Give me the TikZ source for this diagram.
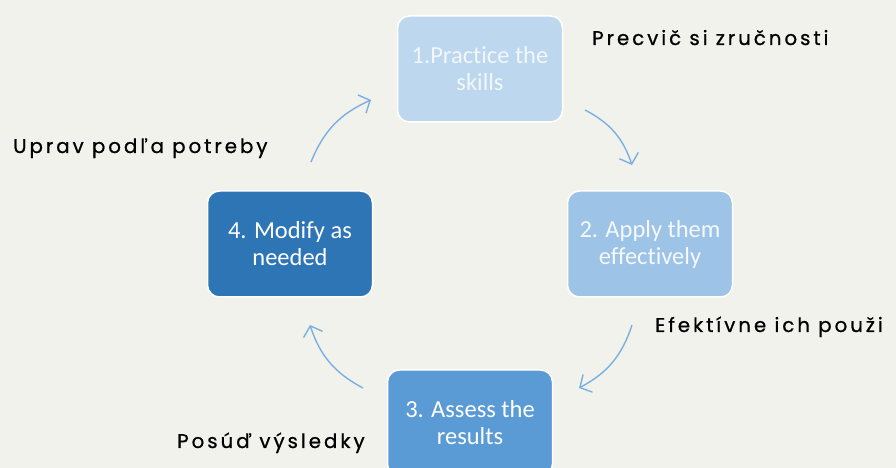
\documentclass[tikz,border=0pt]{standalone}
\usepackage{fontspec}
\usepackage{tikz}
\usetikzlibrary{arrows.meta, positioning}
\newfontfamily\boxfont[Ligatures={NoCommon, NoRare}]{Carlito}
\newfontfamily\lblfont[LetterSpace=15, FakeBold=0.8]{Poppins}
\definecolor{BgGray}{RGB}{242,242,237}
\definecolor{StepA}{RGB}{189,215,238}
\definecolor{StepB}{RGB}{157,195,230}
\definecolor{StepC}{RGB}{91,155,213}
\definecolor{StepD}{RGB}{46,117,182}
\definecolor{ArrBlue}{RGB}{122,176,225}

\begin{document}
\begin{tikzpicture}[x=1pt, y=1pt,
          stage/.style={rectangle, rounded corners=12pt, minimum width=165pt,
                        minimum height=106pt, align=center, draw=white,
                        line width=1.5pt, text=white, font=\boxfont\fontsize{24.5}{27}\selectfont},
          cyc/.style={-{Straight Barb[length=9pt, width=20pt]}, draw=ArrBlue,
                      line width=1.4pt, bend left=22},
          lbl/.style={anchor=base west, inner sep=0pt, text=black,
                      font=\lblfont\fontsize{19.8}{22}\selectfont}
        ]
        % page and background
        \fill[BgGray] (0,0) rectangle (896,468);
        \clip (0,0) rectangle (896,468);

        % the four steps
        \node[stage, fill=StepA, text opacity=0.8] (practice) at (480,399)
              {1.Practice the\\skills};
        \node[stage, fill=StepB, text opacity=0.9] (apply)    at (650,224)
              {2. Apply them\\effectively};
        \node[stage, fill=StepC] (assess)   at (470,45)
              {3. Assess the\\results};
        \node[stage, fill=StepD] (modify)   at (290,224)
              {4. Modify as\\needed};

        % arrow ends
        \coordinate (a1) at (311,306);  \coordinate (b1) at (371,368);
        \coordinate (a2) at (585,358);  \coordinate (b2) at (632,303);
        \coordinate (a3) at (632,143);  \coordinate (b3) at (579,80);
        \coordinate (a4) at (363,80);   \coordinate (b4) at (310,143);

        \draw[cyc] (a1) to (b1);
        \draw[cyc] (a2) to (b2);
        \draw[cyc] (a3) to (b3);
        \draw[cyc] (a4) to (b4);

        % labels
        \node[lbl] (lpractice) at (592,423) {Precvič si zručnosti};
        \node[lbl] (lmodify)   at (13,315)  {Uprav podľa potreby};
        \node[lbl] (lapply)    at (655,136) {Efektívne ich použi};
        \node[lbl] (lassess)   at (177,20)  {Posúď výsledky};
      \end{tikzpicture}
\end{document}
